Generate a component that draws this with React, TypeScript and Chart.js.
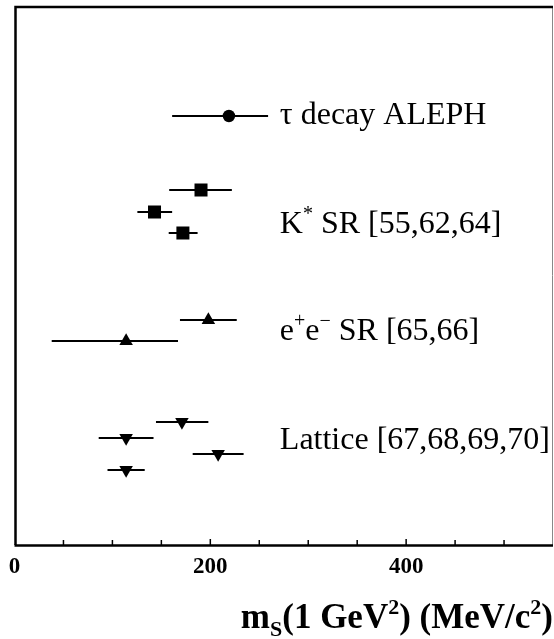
import React, { useEffect, useRef } from 'react';
import { Chart, registerables } from 'chart.js';

Chart.register(...registerables);

// ---- data (x in MeV/c^2, y = row position) ----
const alephX = [219];
const alephLo = [161];
const alephHi = [259];
const alephY = [429];

const kstarX = [190.5, 143, 172];
const kstarLo = [158, 125.5, 157.5];
const kstarHi = [222, 161, 187];
const kstarY = [355, 333, 312];

const eeX = [198, 114];
const eeLo = [169, 38];
const eeHi = [227, 167];
const eeY = [225, 204];

const latX = [171, 114, 208, 114];
const latLo = [144.5, 86, 182, 95];
const latHi = [198, 142, 234, 133];
const latY = [123, 107, 91, 75];

const groupLabels = [
  [{ t: 'τ decay ALEPH' }],
  [{ t: 'K' }, { t: '*', sup: true }, { t: ' SR [55,62,64]' }],
  [{ t: 'e' }, { t: '+', sup: true }, { t: 'e' }, { t: '−', sup: true }, { t: ' SR [65,66]' }],
  [{ t: 'Lattice [67,68,69,70]' }],
];
const groupLabelX = 271;
const groupLabelY = [421, 312, 205, 96];

const xMajorTicks = [0, 200, 400];
const xMin = 0;
const xMax = 550;
const xStep = 50;
const yMin = 0;
const yMax = 539;

const titleSegs = [
  { t: 'm' }, { t: 'S', sub: true }, { t: '(1 GeV' }, { t: '2', sup: true },
  { t: ') (MeV/c' }, { t: '2', sup: true }, { t: ')' },
];

const SERIF = '"Liberation Serif", "Times New Roman", serif';

type Seg = { t: string; sup?: boolean; sub?: boolean };

function drawRich(ctx: CanvasRenderingContext2D, segs: Seg[], x: number, y: number, size: number, bold: boolean, align: 'left' | 'right') {
  const w = bold ? 'bold ' : '';
  const small = Math.round(size * 0.62);
  const widths = segs.map((s) => {
    ctx.font = `${w}${s.sup || s.sub ? small : size}px ${SERIF}`;
    return ctx.measureText(s.t).width;
  });
  const total = widths.reduce((a, b) => a + b, 0);
  let cx = align === 'right' ? x - total : x;
  ctx.textBaseline = 'alphabetic';
  ctx.textAlign = 'left';
  segs.forEach((s, i) => {
    ctx.font = `${w}${s.sup || s.sub ? small : size}px ${SERIF}`;
    let dy = 0;
    if (s.sup) dy = -size * 0.4;
    if (s.sub) dy = size * 0.22;
    ctx.fillText(s.t, cx, y + dy);
    cx += widths[i];
  });
}

const errorBarPlugin = {
  id: 'errorBars',
  beforeDatasetsDraw(chart: any) {
    const { ctx } = chart;
    const xs = chart.scales.x;
    const ys = chart.scales.y;
    ctx.save();
    ctx.strokeStyle = '#000';
    ctx.lineWidth = 2;
    chart.data.datasets.forEach((ds: any) => {
      ds.data.forEach((p: any, i: number) => {
        const y = ys.getPixelForValue(p.y);
        ctx.beginPath();
        ctx.moveTo(xs.getPixelForValue(ds.lo[i]), y);
        ctx.lineTo(xs.getPixelForValue(ds.hi[i]), y);
        ctx.stroke();
      });
    });
    ctx.restore();
  },
};

const framePlugin = {
  id: 'frame',
  afterDraw(chart: any) {
    const { ctx, chartArea } = chart;
    const { left, right, top, bottom } = chartArea;
    const xs = chart.scales.x;
    ctx.save();
    // inward ticks
    ctx.strokeStyle = '#000';
    ctx.lineWidth = 1.5;
    xs.ticks.forEach((t: any) => {
      if (t.value <= xMin || t.value >= xMax) return;
      const px = xs.getPixelForValue(t.value);
      const len = xMajorTicks.includes(t.value) ? 6 : 5;
      ctx.beginPath();
      ctx.moveTo(px, bottom);
      ctx.lineTo(px, bottom - len);
      ctx.stroke();
    });
    // right border thin gray
    ctx.strokeStyle = '#888';
    ctx.lineWidth = 1;
    ctx.beginPath();
    ctx.moveTo(right - 0.5, top);
    ctx.lineTo(right - 0.5, bottom);
    ctx.stroke();
    // left, top, bottom thick
    ctx.strokeStyle = '#000';
    ctx.lineWidth = 2.5;
    ctx.beginPath();
    ctx.moveTo(left + 1, bottom);
    ctx.lineTo(left + 1, top + 1);
    ctx.lineTo(right, top + 1);
    ctx.stroke();
    ctx.beginPath();
    ctx.moveTo(left, bottom + 0.5);
    ctx.lineTo(right, bottom + 0.5);
    ctx.stroke();
    // group labels
    ctx.fillStyle = '#000';
    groupLabels.forEach((segs, i) => {
      drawRich(ctx, segs as Seg[], xs.getPixelForValue(groupLabelX), chart.scales.y.getPixelForValue(groupLabelY[i]), 32, false, 'left');
    });
    // axis title
    drawRich(ctx, titleSegs as Seg[], right, 628, 35, true, 'right');
    ctx.restore();
  },
};

function pts(xs: number[], ys: number[]) {
  return xs.map((x, i) => ({ x, y: ys[i] }));
}

export default function App() {
  const ref = useRef<HTMLCanvasElement>(null);
  useEffect(() => {
    if (!ref.current) return;
    const base = { backgroundColor: '#000', borderColor: '#000', borderWidth: 0, showLine: false };
    const chart = new Chart(ref.current, {
      type: 'scatter',
      data: {
        datasets: [
          { ...base, label: 'ALEPH', data: pts(alephX, alephY), lo: alephLo, hi: alephHi, pointStyle: 'circle', pointRadius: 6.2 } as any,
          { ...base, label: 'K*', data: pts(kstarX, kstarY), lo: kstarLo, hi: kstarHi, pointStyle: 'rect', pointRadius: 9.2 } as any,
          { ...base, label: 'ee', data: pts(eeX, eeY), lo: eeLo, hi: eeHi, pointStyle: 'triangle', pointRadius: 7.8 } as any,
          { ...base, label: 'Lattice', data: pts(latX, latY), lo: latLo, hi: latHi, pointStyle: 'triangle', pointRotation: 180, pointRadius: 7.8 } as any,
        ],
      },
      options: {
        animation: false,
        responsive: false,
        events: [],
        layout: { autoPadding: false, padding: { left: 14.5, right: 1, top: 6, bottom: 0 } },
        plugins: { legend: { display: false }, tooltip: { enabled: false } },
        scales: {
          x: {
            type: 'linear',
            min: xMin,
            max: xMax,
            grid: { display: false, drawTicks: true, tickLength: 8 },
            border: { display: false },
            ticks: {
              stepSize: xStep,
              autoSkip: false,
              maxRotation: 0,
              padding: 0,
              color: '#000',
              font: { family: SERIF, size: 23, weight: 'bold' },
              callback: (v: any) => (xMajorTicks.includes(Number(v)) ? String(v) : ''),
            },
            afterFit: (scale: any) => {
              scale.height = 94;
              scale.paddingLeft = 0;
              scale.paddingRight = 0;
            },
          },
          y: { type: 'linear', display: false, min: yMin, max: yMax },
        },
      },
      plugins: [errorBarPlugin, framePlugin],
    });
    return () => chart.destroy();
  }, []);
  return (
    <div style={{ position: 'fixed', left: 0, top: 0, width: 554, height: 639, background: '#fff' }}>
      <canvas ref={ref} width={554} height={639} style={{ display: 'block' }} />
    </div>
  );
}
